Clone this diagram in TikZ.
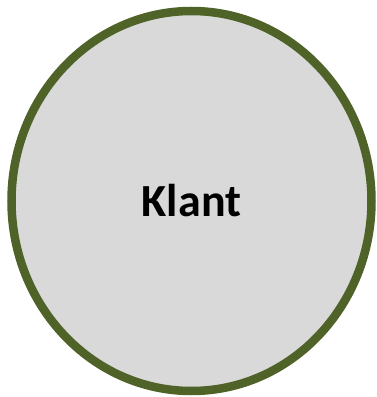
\documentclass[tikz,border=0pt]{standalone}
\usepackage{fontspec}
\setmainfont{Carlito}
\definecolor{ringgreen}{HTML}{4F6228}
\definecolor{fillgray}{HTML}{D9D9D9}
\tikzset{klantshape/.style={ellipse, draw=ringgreen, fill=fillgray, line width=8.5pt, minimum width=360pt, minimum height=380pt, inner sep=0pt}}
\usetikzlibrary{shapes.geometric}
\begin{document}
\begin{tikzpicture}[x=1pt,y=1pt]
\useasboundingbox (0,0) rectangle (376,397);
\node[klantshape] (klant) at (191.5,196) {};
\node[font=\fontsize{46}{50}\selectfont\bfseries, anchor=base] (label) at (191.5,180.3) {Klant};
\end{tikzpicture}
\end{document}
